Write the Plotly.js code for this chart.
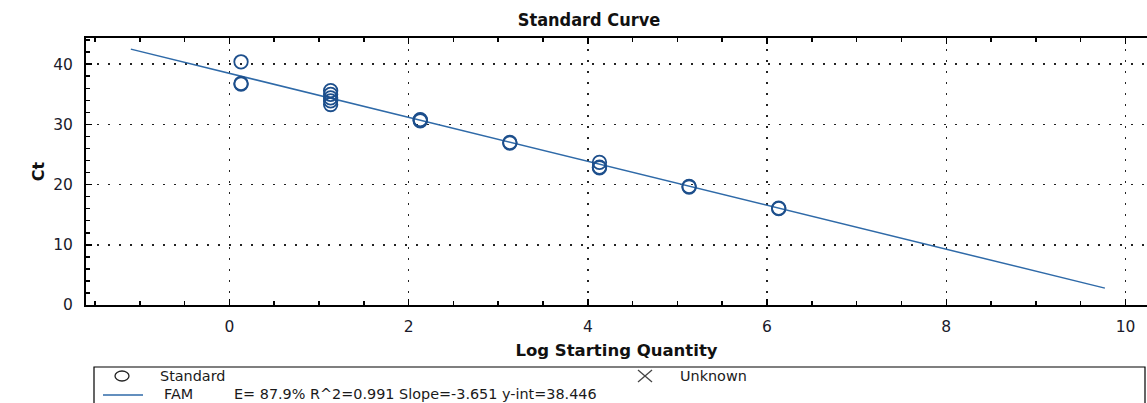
<!DOCTYPE html>
<html>
<head>
<meta charset="utf-8">
<script src="https://cdn.plot.ly/plotly-3.0.1.min.js"></script>
<style>html,body{margin:0;padding:0;background:#fff;}#chart{width:1147px;height:403px;}</style>
</head>
<body>
<div id="chart"></div>
<script>
// Standard points (Log Starting Quantity, Ct)
const stdX = [0.13, 0.13, 0.13,
              1.13, 1.13, 1.13, 1.13, 1.13,
              2.13, 2.13, 2.13,
              3.13, 3.13,
              4.13, 4.13, 4.13,
              5.13, 5.13,
              6.13, 6.13];
const stdY = [40.4, 36.7, 36.8,
              35.6, 35.0, 34.4, 33.9, 33.3,
              30.7, 30.6, 30.8,
              26.9, 27.0,
              23.7, 22.9, 22.8,
              19.7, 19.6,
              16.1, 16.0];
// Fit line end points
const fitX = [-1.1, 9.77];
const fitY = [42.5, 2.8];
// Texts
const chartTitle = "Standard Curve";
const xTitle = "Log Starting Quantity";
const yTitle = "Ct";
const legendStd = "Standard";
const legendUnknown = "Unknown";
const legendFam = "FAM";
const legendStats = "E= 87.9% R^2=0.991 Slope=-3.651 y-int=38.446";

const W = 1147, H = 403, ML = 86, MR = 0, MT = 38, MB = 98;
const PW = W - ML - MR, PH = H - MT - MB;
const px = v => (v - ML) / PW;
const py = v => (H - MB - v) / PH;

const tickFont = {family: "DejaVu Sans, Arial, sans-serif", size: 15.5, color: "#1a1a2a"};
const txtFont = {family: "DejaVu Sans, Arial, sans-serif", size: 14.4, color: "#1a1a1a"};

const traces = [
  {x: fitX, y: fitY, type: "scatter", mode: "lines",
   line: {color: "#2f6aa8", width: 1.5}, hoverinfo: "skip", showlegend: false},
  {x: stdX, y: stdY, type: "scatter", mode: "markers",
   marker: {symbol: "circle-open", size: 13.5, color: "#1d4f8c", line: {width: 1.8, color: "#1d4f8c"}},
   showlegend: false}
];

const gridDash = "1.5px,9.5px";
const layout = {
  width: W, height: H,
  margin: {l: ML, r: MR, t: MT, b: MB, pad: 0},
  paper_bgcolor: "#fff", plot_bgcolor: "#fff",
  showlegend: false,
  title: {text: "<b>" + chartTitle + "</b>", font: {family: "Liberation Sans Narrow, Arial Narrow, DejaVu Sans Condensed, Arial, sans-serif", size: 18, color: "#111"},
          xref: "container", x: 589 / W, xanchor: "center", yref: "container", y: 1 - 20 / H, yanchor: "middle"},
  xaxis: {
    range: [-1.6, 10.24], dtick: 2, tick0: 0,
    showline: true, linecolor: "#000", linewidth: 2, mirror: "ticks",
    ticks: "inside", ticklen: 6, tickwidth: 1.5, tickcolor: "#000",
    minor: {dtick: 0.5, tick0: 0, ticks: "inside", ticklen: 4, tickwidth: 1.5, tickcolor: "#000", showgrid: false},
    showgrid: true, gridcolor: "#222", gridwidth: 1.5, griddash: gridDash,
    zeroline: false, tickfont: tickFont, ticklabelstandoff: 6,
    title: {text: "<b>" + xTitle + "</b>", font: {family: "DejaVu Sans, Arial, sans-serif", size: 16.5, color: "#111"}, standoff: 10}
  },
  yaxis: {
    range: [0, 44.35], dtick: 10, tick0: 0,
    showline: true, linecolor: "#000", linewidth: 2, mirror: false,
    ticks: "inside", ticklen: 6, tickwidth: 1.5, tickcolor: "#000",
    minor: {dtick: 2, tick0: 0, ticks: "inside", ticklen: 4, tickwidth: 1.5, tickcolor: "#000", showgrid: false},
    showgrid: true, gridcolor: "#222", gridwidth: 1.5, griddash: gridDash,
    zeroline: false, tickfont: tickFont, ticklabelstandoff: 8,
    title: {text: "<b>" + yTitle + "</b>", font: {family: "DejaVu Sans, Arial, sans-serif", size: 16, color: "#111"}, standoff: 5}
  },
  xaxis2: {
    overlaying: "x", matches: "x", range: [-1.6, 10.24], dtick: 2, tick0: 0, side: "bottom",
    showline: false, ticks: "outside", ticklen: 4, tickwidth: 1.5, tickcolor: "#000",
    minor: {dtick: 0.5, tick0: 0, ticks: "outside", ticklen: 3, tickwidth: 1.5, tickcolor: "#000"},
    showgrid: false, zeroline: false, showticklabels: false
  },
  yaxis2: {
    overlaying: "y", matches: "y", range: [0, 44.35], dtick: 10, tick0: 0, side: "left",
    showline: false, ticks: "outside", ticklen: 5, tickwidth: 1.5, tickcolor: "#000",
    minor: {dtick: 2, tick0: 0, ticks: "outside", ticklen: 4, tickwidth: 1.5, tickcolor: "#000"},
    showgrid: false, zeroline: false, showticklabels: false
  },
  shapes: [
    {type: "rect", xref: "paper", yref: "paper", x0: px(94), x1: px(1145), y0: py(367), y1: py(415),
     line: {color: "#000", width: 1.2}, fillcolor: "rgba(0,0,0,0)"},
    {type: "circle", xref: "paper", yref: "paper", xsizemode: "pixel", ysizemode: "pixel",
     xanchor: px(122), yanchor: py(376), x0: -7, x1: 7, y0: -5, y1: 5,
     line: {color: "#222", width: 1.3}},
    {type: "line", xref: "paper", yref: "paper", x0: px(103), x1: px(143), y0: py(395), y1: py(395),
     line: {color: "#2f6aa8", width: 1.5}},
    {type: "line", xref: "paper", yref: "paper", xsizemode: "pixel", ysizemode: "pixel",
     xanchor: px(645), yanchor: py(376), x0: -7, x1: 7, y0: -6, y1: 6, line: {color: "#444", width: 1.3}},
    {type: "line", xref: "paper", yref: "paper", xsizemode: "pixel", ysizemode: "pixel",
     xanchor: px(645), yanchor: py(376), x0: -7, x1: 7, y0: 6, y1: -6, line: {color: "#444", width: 1.3}}
  ],
  annotations: [
    {xref: "paper", yref: "paper", x: px(158), y: py(376), xanchor: "left", yanchor: "middle", text: legendStd, showarrow: false, font: txtFont},
    {xref: "paper", yref: "paper", x: px(678), y: py(376), xanchor: "left", yanchor: "middle", text: legendUnknown, showarrow: false, font: txtFont},
    {xref: "paper", yref: "paper", x: px(162), y: py(394), xanchor: "left", yanchor: "middle", text: legendFam, showarrow: false, font: txtFont},
    {xref: "paper", yref: "paper", x: px(232), y: py(394), xanchor: "left", yanchor: "middle", text: legendStats, showarrow: false, font: txtFont}
  ]
};

Plotly.newPlot("chart", traces, layout, {staticPlot: true, displayModeBar: false});
</script>
</body>
</html>
